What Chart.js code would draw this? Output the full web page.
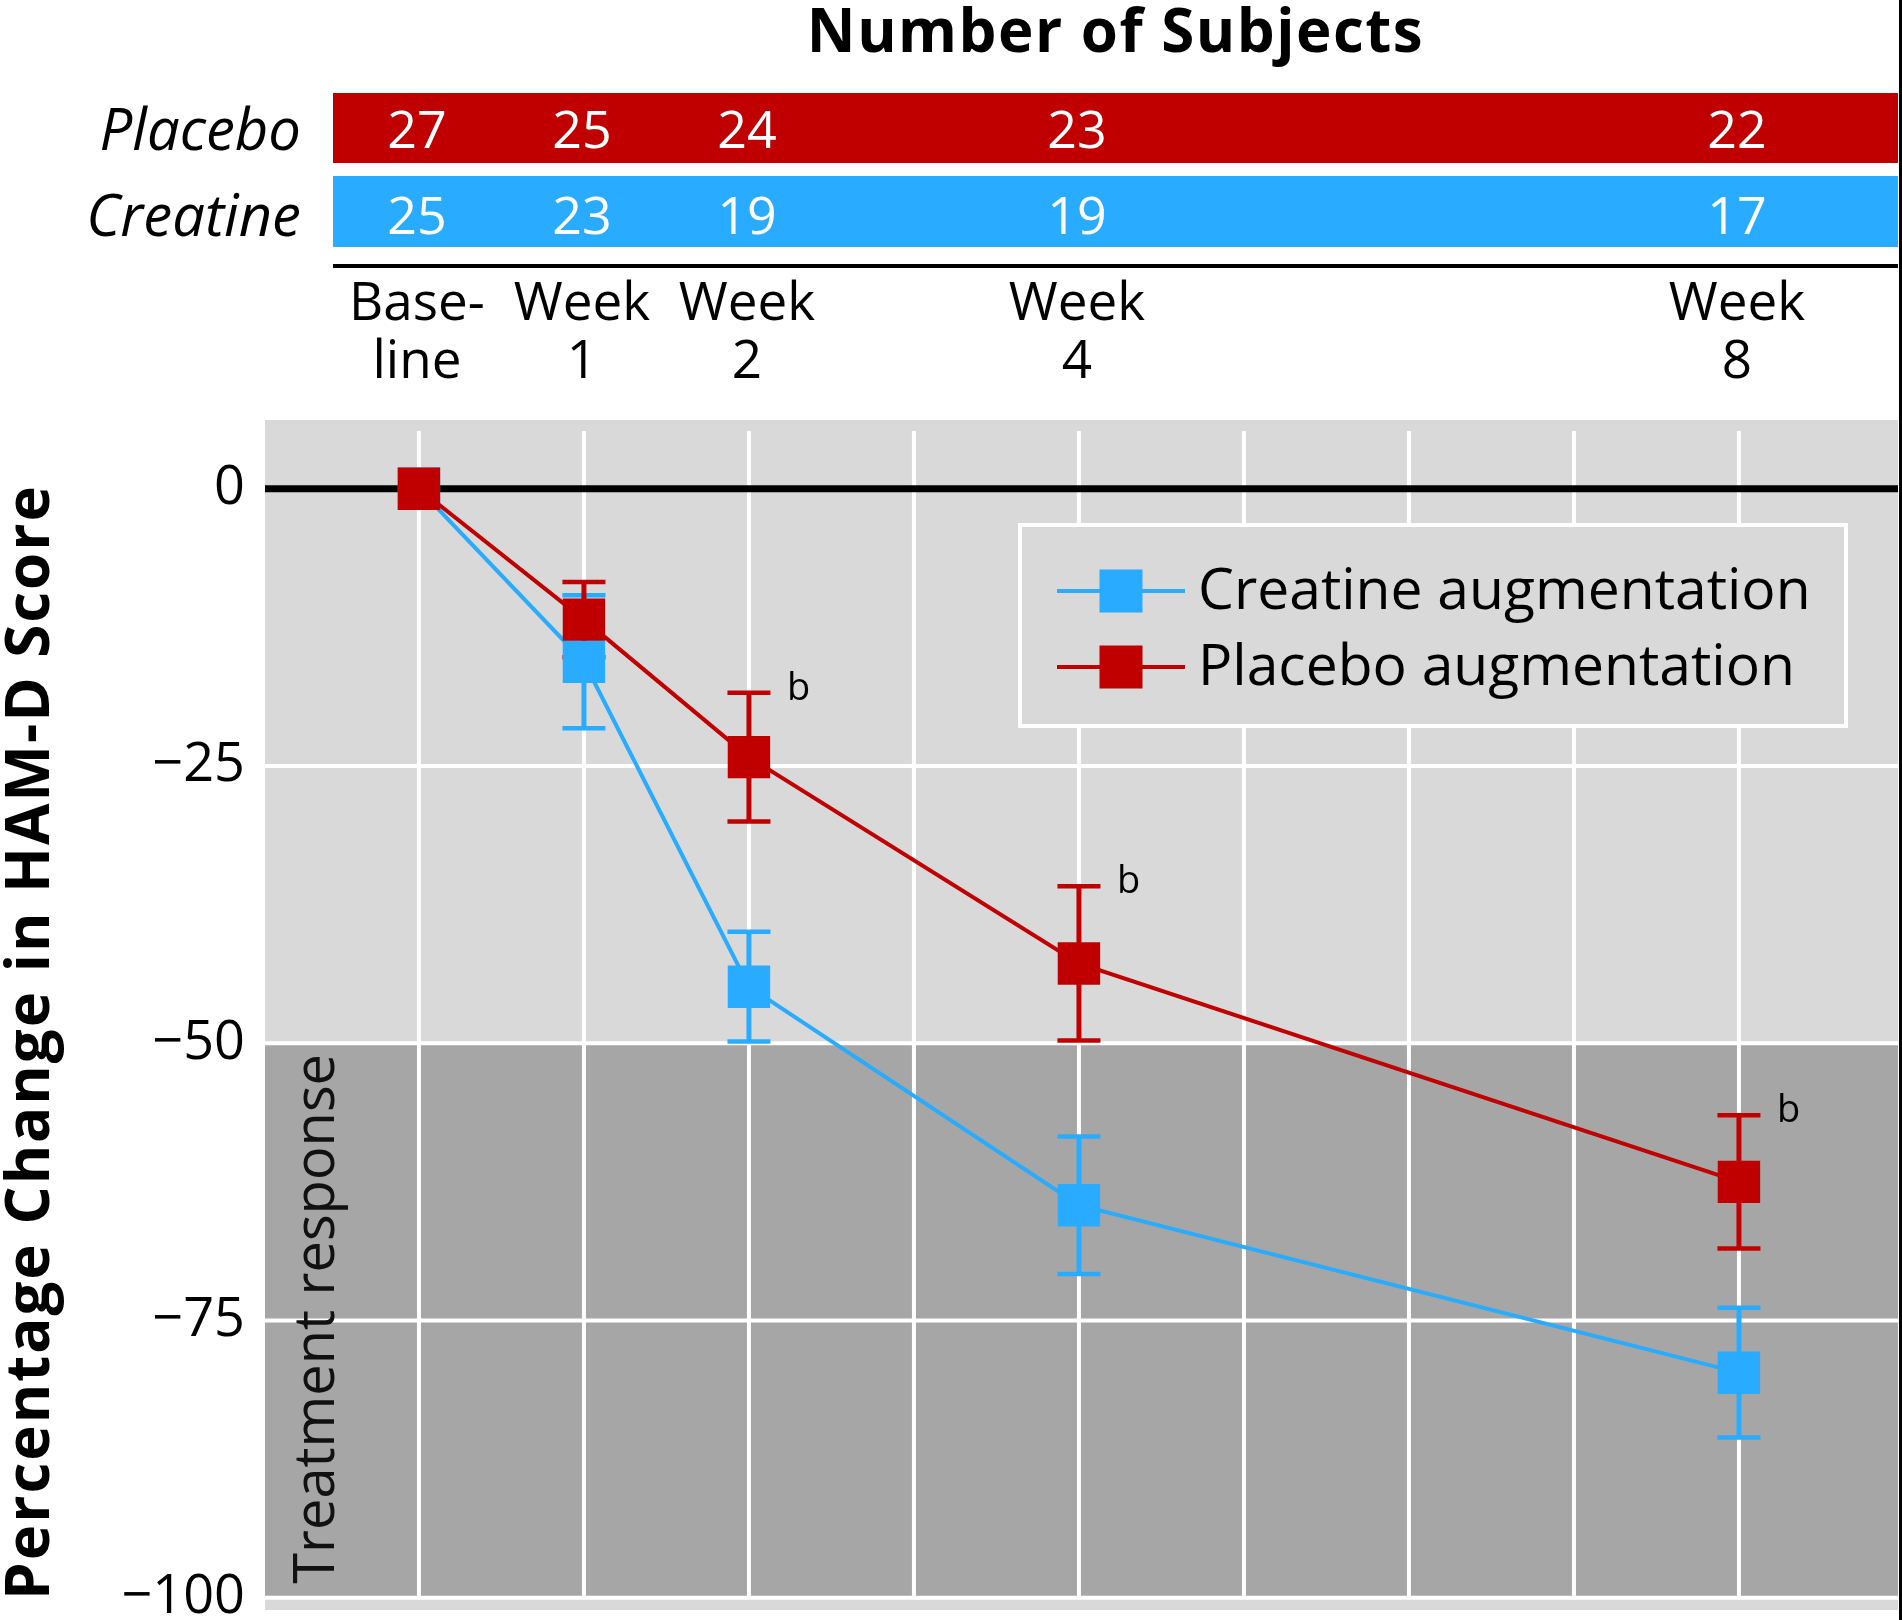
<!DOCTYPE html>
<html><head><meta charset="utf-8">
<script src="https://cdn.jsdelivr.net/npm/chart.js@4.4.1/dist/chart.umd.min.js"></script>
<style>html,body{margin:0;padding:0;background:#fff;} canvas{display:block;}</style>
</head><body>
<canvas id="c" width="1902" height="1620"></canvas>
<script>
// ---- data ----
const weeks = [0, 1, 2, 4, 8];
const weekLabels = [['Base-', 'line'], ['Week', '1'], ['Week', '2'], ['Week', '4'], ['Week', '8']];
const creatineMean = [0, -15.6, -44.9, -64.6, -79.7];
const creatineErr = [0, 6.0, 4.95, 6.2, 5.85];
const placeboMean = [0, -11.8, -24.2, -42.8, -62.5];
const placeboErr = [0, 3.4, 5.8, 6.95, 6.0];
const placeboMarks = ['', '', 'b', 'b', 'b'];
const placeboN = [27, 25, 24, 23, 22];
const creatineN = [25, 23, 19, 19, 17];
const yTicks = [0, -25, -50, -75, -100];
const responseBand = [-50, -100];
const seriesNames = ['Creatine augmentation', 'Placebo augmentation'];
const groupNames = ['Placebo', 'Creatine'];
const headerTitle = 'Number of Subjects';
const yTitle = 'Percentage Change in HAM-D Score';
const bandLabel = 'Treatment response';

// ---- style ----
const FONT = "'Open Sans', 'Noto Sans', sans-serif";
const RED = '#c00000', BLUE = '#29abff';
const LIGHT = '#d9d9d9', DARK = '#a6a6a6';

function seg(ctx, x1, y1, x2, y2) { ctx.beginPath(); ctx.moveTo(x1, y1); ctx.lineTo(x2, y2); ctx.stroke(); }

function drawErrorBars(ctx, x, y, means, errs, color) {
  ctx.strokeStyle = color;
  weeks.forEach((w, i) => {
    if (!errs[i]) return;
    const px = x.getPixelForValue(w);
    const pu = y.getPixelForValue(means[i] + errs[i]);
    const pl = y.getPixelForValue(means[i] - errs[i]);
    ctx.lineWidth = 5;
    seg(ctx, px, pu, px, pl);
    ctx.lineWidth = 4.5;
    seg(ctx, px - 21.5, pu, px + 21.5, pu);
    seg(ctx, px - 21.5, pl, px + 21.5, pl);
  });
}

const deco = {
  id: 'deco',
  beforeDatasetsDraw(chart) {
    const { ctx, chartArea: a, scales: { x, y } } = chart;
    ctx.save();
    ctx.fillStyle = LIGHT;
    ctx.fillRect(a.left, a.top, a.right - a.left, a.bottom - a.top);
    const yb0 = y.getPixelForValue(responseBand[0]);
    const yb1 = y.getPixelForValue(responseBand[1]);
    ctx.fillStyle = DARK;
    ctx.fillRect(a.left, yb0, a.right - a.left, yb1 - yb0);
    ctx.strokeStyle = '#fff'; ctx.lineWidth = 4;
    for (let w = Math.ceil(x.min); w <= Math.floor(x.max); w++) {
      const px = x.getPixelForValue(w);
      seg(ctx, px, a.top + 11, px, yb1);
    }
    yTicks.forEach(v => {
      if (v === 0) return;
      const py = y.getPixelForValue(v);
      seg(ctx, a.left, py, a.right, py);
    });
    const y0 = y.getPixelForValue(0);
    ctx.strokeStyle = '#000'; ctx.lineWidth = 7;
    seg(ctx, a.left, y0, a.right, y0);
    drawErrorBars(ctx, x, y, creatineMean, creatineErr, BLUE);
    drawErrorBars(ctx, x, y, placeboMean, placeboErr, RED);
    ctx.restore();
  },
  afterDraw(chart) {
    const { ctx, chartArea: a, scales: { x, y } } = chart;
    ctx.save();
    // significance marks
    ctx.fillStyle = '#000';
    ctx.font = `38px ${FONT}`;
    ctx.textAlign = 'left'; ctx.textBaseline = 'middle';
    weeks.forEach((w, i) => {
      if (!placeboMarks[i]) return;
      ctx.fillText(placeboMarks[i], x.getPixelForValue(w) + 38, y.getPixelForValue(placeboMean[i] + placeboErr[i]) - 4);
    });

    // legend
    const lb = { l: 1020, t: 525, r: 1846, b: 726 };
    ctx.fillStyle = LIGHT;
    ctx.fillRect(lb.l, lb.t, lb.r - lb.l, lb.b - lb.t);
    ctx.strokeStyle = '#fff'; ctx.lineWidth = 4;
    ctx.strokeRect(lb.l, lb.t, lb.r - lb.l, lb.b - lb.t);
    const rowsY = [591, 667];
    chart.data.datasets.forEach((ds, i) => {
      const ry = rowsY[i];
      ctx.strokeStyle = ds.borderColor; ctx.lineWidth = 4;
      seg(ctx, 1057, ry, 1185, ry);
      ctx.fillStyle = ds.backgroundColor;
      ctx.fillRect(1121 - 21.5, ry - 21.5, 43, 43);
      ctx.fillStyle = '#000';
      ctx.font = `57px ${FONT}`;
      ctx.textAlign = 'left'; ctx.textBaseline = 'middle';
      ctx.fillText(ds.label, 1198, ry + 2);
    });

    // treatment response label
    ctx.save();
    ctx.translate(334, y.getPixelForValue(responseBand[1]) - 14);
    ctx.rotate(-Math.PI / 2);
    ctx.fillStyle = '#111';
    ctx.font = `56px ${FONT}`;
    ctx.textAlign = 'left'; ctx.textBaseline = 'alphabetic';
    ctx.fillText(bandLabel, 0, 0);
    ctx.restore();

    // y title
    ctx.save();
    ctx.translate(49, 1042);
    ctx.rotate(-Math.PI / 2);
    ctx.fillStyle = '#000';
    ctx.font = `bold 60px ${FONT}`;
    ctx.letterSpacing = '2px';
    ctx.textAlign = 'center'; ctx.textBaseline = 'alphabetic';
    ctx.fillText(yTitle, 0, 0);
    ctx.restore();

    // subjects table
    const barL = 333, barR = a.right;
    const rows = [
      { n: placeboN, color: RED, name: groupNames[0], top: 93, h: 70, base: 150 },
      { n: creatineN, color: BLUE, name: groupNames[1], top: 176, h: 71, base: 236 }
    ];
    rows.forEach(r => {
      ctx.fillStyle = r.color;
      ctx.fillRect(barL, r.top, barR - barL, r.h);
      ctx.fillStyle = '#fff';
      ctx.font = `52px ${FONT}`;
      ctx.textAlign = 'center'; ctx.textBaseline = 'alphabetic';
      r.n.forEach((v, i) => ctx.fillText(String(v), x.getPixelForValue(weeks[i]) - 2, r.base - 2));
      ctx.fillStyle = '#000';
      ctx.font = `italic 58px ${FONT}`;
      ctx.textAlign = 'right';
      ctx.fillText(r.name, 301, r.base);
    });
    ctx.fillStyle = '#000';
    ctx.fillRect(barL, 264, barR - barL, 4);
    ctx.font = `53px ${FONT}`;
    ctx.textAlign = 'center'; ctx.textBaseline = 'alphabetic';
    weekLabels.forEach((lab, i) => {
      const px = x.getPixelForValue(weeks[i]) - 2;
      ctx.fillText(lab[0], px, 320);
      ctx.fillText(lab[1], px, 378);
    });
    ctx.save();
    ctx.font = `bold 60px ${FONT}`;
    ctx.letterSpacing = '1.5px';
    ctx.fillText(headerTitle, (barL + barR) / 2, 52);
    ctx.restore();

    // right border
    ctx.fillStyle = '#000';
    ctx.fillRect(1899, 0, 3, 1620);
    ctx.restore();
  }
};

const toPoints = (means) => weeks.map((w, i) => ({ x: w, y: means[i] }));

new Chart(document.getElementById('c'), {
  type: 'line',
  data: {
    datasets: [
      { label: seriesNames[0], data: toPoints(creatineMean), borderColor: BLUE, backgroundColor: BLUE,
        borderWidth: 4, pointStyle: 'rect', pointRadius: 30, pointHoverRadius: 30, pointBorderWidth: 0, order: 1 },
      { label: seriesNames[1], data: toPoints(placeboMean), borderColor: RED, backgroundColor: RED,
        borderWidth: 4, pointStyle: 'rect', pointRadius: 30, pointHoverRadius: 30, pointBorderWidth: 0, order: 0 }
    ]
  },
  options: {
    responsive: false, animation: false, devicePixelRatio: 1,
    layout: { autoPadding: false, padding: { top: 420, bottom: 10, left: 0, right: 4 } },
    plugins: { legend: { display: false }, tooltip: { enabled: false } },
    events: [],
    scales: {
      x: { type: 'linear', min: -0.933, max: 8.964, display: false },
      y: {
        min: -101.1, max: 6.2,
        afterBuildTicks: s => { s.ticks = yTicks.map(v => ({ value: v })); },
        afterFit: s => { s.width = 265; s.paddingTop = 0; s.paddingBottom = 0; },
        grid: { display: false, drawTicks: false },
        border: { display: false },
        ticks: {
          padding: 20, color: '#000', font: { family: FONT, size: 54 },
          callback: v => (v < 0 ? '\u2212' + Math.abs(v) : String(v))
        }
      }
    }
  },
  plugins: [deco]
});
</script>
</body></html>
